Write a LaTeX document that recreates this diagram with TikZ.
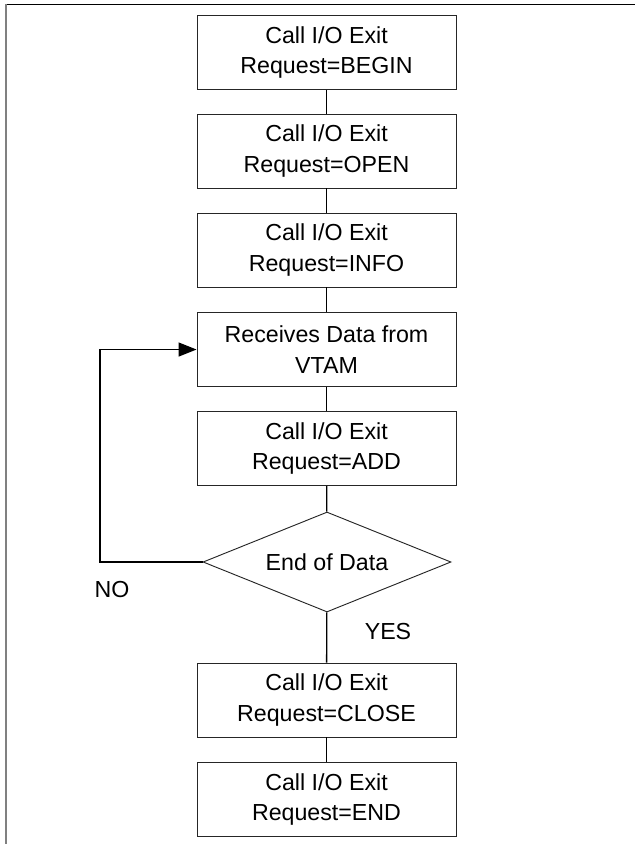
\documentclass[tikz,border=0pt]{standalone}
\usepackage{fontspec}
\setmainfont{Liberation Sans}
\usetikzlibrary{shapes.geometric,arrows.meta}
\begin{document}
\begin{tikzpicture}[x=0.75pt,y=-0.75pt,
  stepbox/.style={draw=black!85,line width=0.7pt,rectangle,minimum width=194.25pt,
    minimum height=55.5pt,inner sep=0pt,align=center,
    font=\fontsize{17.4}{22.7}\selectfont},
  decision/.style={draw=black!85,line width=0.7pt,diamond,minimum width=186pt,
    minimum height=75pt,inner sep=0pt,aspect=2.48,
    font=\fontsize{17.4}{22.7}\selectfont},
  link/.style={line width=1pt,black},
  lbl/.style={font=\fontsize{17.4}{22.7}\selectfont,inner sep=0pt}]
\useasboundingbox (0,0) rectangle (635,844);
% outer frame edges
\draw[line width=1.4pt,black] (5,4.5) -- (635,4.5);
\draw[line width=1.4pt,black!50] (6,4) -- (6,844);
% process steps
\node[stepbox] (b1) at (326.5,52.5) {Call I/O Exit\\Request=BEGIN};
\node[stepbox] (b2) at (326.5,151) {Call I/O Exit\\Request=OPEN};
\node[stepbox] (b3) at (326.5,250) {Call I/O Exit\\Request=INFO};
\node[stepbox] (b4) at (326.5,349.5) {Receives Data from\\VTAM};
\node[stepbox] (b5) at (326.5,448.5) {Call I/O Exit\\Request=ADD};
\node[decision] (d) at (327,562) {End of Data};
\node[stepbox] (b6) at (326.5,700) {Call I/O Exit\\Request=CLOSE};
\node[stepbox] (b7) at (326.5,799.5) {Call I/O Exit\\Request=END};
% connectors
\draw[link] (b1) -- (b2);
\draw[link] (b2) -- (b3);
\draw[link] (b3) -- (b4);
\draw[link] (b4) -- (b5);
\draw[link] (b5) -- (d);
\draw[link] (d) -- (b6);
\draw[link] (b6) -- (b7);
% loop back while data remains
\coordinate (loop) at (100,562);
\draw[link,-{Triangle[length=13.5pt,width=10.5pt]}] (d.west) -- (loop) |- (b4.west);
% branch labels
\node[lbl] (no) at (112,590) {NO};
\node[lbl] (yes) at (388,632) {YES};
\end{tikzpicture}
\end{document}
